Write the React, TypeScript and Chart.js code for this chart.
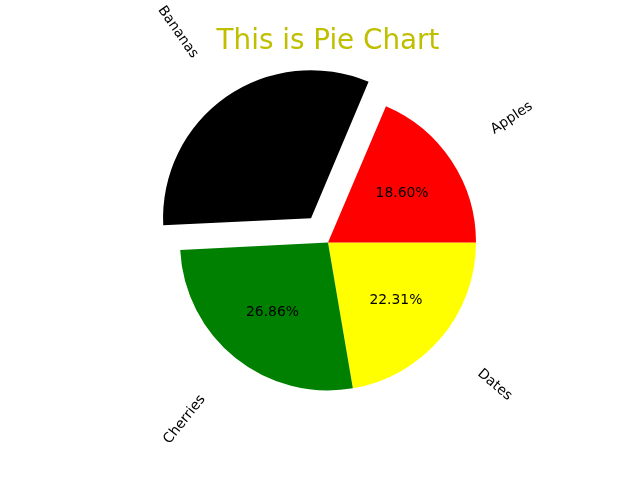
import React, { useEffect, useRef } from "react";
import { Chart, registerables } from "chart.js";

Chart.register(...registerables);

// Data (matplotlib order, counter-clockwise from east)
const categories = ["Apples", "Bananas", "Cherries", "Dates"];
const values = [45, 78, 65, 54];
const colors = ["#ff0000", "#000000", "#008000", "#ffff00"];
const explode = [0, 0.2, 0, 0];
const titleText = "This is Pie Chart";

const R = 148;
const FONT = "'DejaVu Sans', sans-serif";
const LABEL_FS = 13.9;
const TITLE_FS = 27.8;

// Chart.js draws clockwise: reverse order so the visual layout matches
const order = [3, 2, 1, 0];

const piePlugin = {
  id: "mplPie",
  afterDatasetsUpdate(chart: any) {
    const meta = chart.getDatasetMeta(0);
    meta.data.forEach((arc: any) => {
      const off = (arc.options.offset || 0) / 4;
      if (off > 0) {
        const circ = arc.endAngle - arc.startAngle;
        const fix = 1 - Math.sin(Math.min(Math.PI, circ));
        arc.outerRadius = R - off * fix;
      }
    });
  },
  afterDraw(chart: any) {
    const ctx = chart.ctx;
    const meta = chart.getDatasetMeta(0);
    const total = values.reduce((a, b) => a + b, 0);
    ctx.save();
    meta.data.forEach((arc: any, i: number) => {
      const idx = order[i];
      const mid = (arc.startAngle + arc.endAngle) / 2;
      const off = (arc.options.offset || 0) / 4;
      const cx = arc.x + Math.cos(mid) * off;
      const cy = arc.y + Math.sin(mid) * off;
      // percentage
      ctx.font = `${LABEL_FS}px ${FONT}`;
      ctx.fillStyle = "#000000";
      ctx.textAlign = "center";
      ctx.textBaseline = "alphabetic";
      const px = cx + Math.cos(mid) * R * 0.6;
      const py = cy + Math.sin(mid) * R * 0.6;
      const pct = ((values[idx] / total) * 100).toFixed(2) + "%";
      ctx.fillText(pct, px, py + 0.276 * LABEL_FS);
      // category label, rotated
      const dx = Math.cos(mid);
      const dy = Math.sin(mid);
      const xt = cx + dx * R * 1.3;
      const yt = cy + dy * R * 1.3;
      const label = categories[idx];
      const w = ctx.measureText(label).width;
      const h = 0.968 * LABEL_FS;
      const rot = dx < 0 ? mid - Math.PI : mid;
      const W = w * Math.abs(Math.cos(rot)) + h * Math.abs(Math.sin(rot));
      const H = w * Math.abs(Math.sin(rot)) + h * Math.abs(Math.cos(rot));
      const bx = dx >= 0 ? xt + W / 2 : xt - W / 2;
      const by = dy <= 0 ? yt - H / 2 : yt + H / 2;
      ctx.save();
      ctx.translate(bx, by);
      ctx.rotate(rot);
      ctx.fillText(label, 0, 0.276 * LABEL_FS);
      ctx.restore();
    });
    // title
    ctx.font = `${TITLE_FS}px ${FONT}`;
    ctx.fillStyle = "#bfbf00";
    ctx.textAlign = "center";
    ctx.textBaseline = "alphabetic";
    ctx.fillText(titleText, 328, 49.3);
    ctx.restore();
  },
};

export default function App() {
  const ref = useRef<HTMLCanvasElement>(null);
  useEffect(() => {
    if (!ref.current) return;
    const chart = new Chart(ref.current, {
      type: "pie",
      data: {
        labels: order.map((i) => categories[i]),
        datasets: [
          {
            data: order.map((i) => values[i]),
            backgroundColor: order.map((i) => colors[i]),
            offset: order.map((i) => explode[i] * R * 4),
            borderWidth: 0,
          } as any,
        ],
      },
      options: {
        responsive: false,
        animation: false,
        devicePixelRatio: 1,
        rotation: 90,
        radius: R,
        layout: { padding: { left: 16, right: 0, top: 4.8, bottom: 0 } },
        plugins: {
          legend: { display: false },
          tooltip: { enabled: false },
          title: { display: false },
        },
        events: [],
      } as any,
      plugins: [piePlugin],
    });
    return () => chart.destroy();
  }, []);
  return (
    <div style={{ position: "fixed", left: 0, top: 0, width: 640, height: 480, background: "#fff" }}>
      <canvas ref={ref} width={640} height={480} />
    </div>
  );
}
